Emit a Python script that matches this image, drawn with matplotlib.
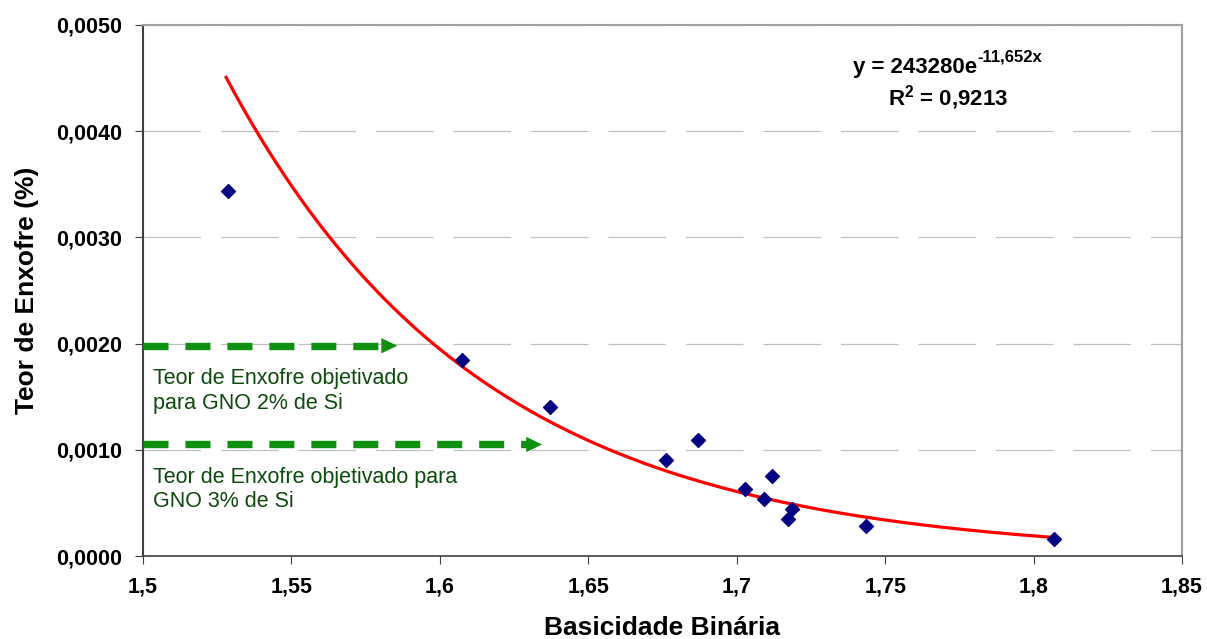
import numpy as np
import matplotlib
matplotlib.use("Agg")
import matplotlib.pyplot as plt
from matplotlib.ticker import FuncFormatter

plt.rcParams['font.family'] = ['Liberation Sans', 'DejaVu Sans']
plt.rcParams['mathtext.fontset'] = 'custom'
plt.rcParams['mathtext.rm'] = 'Liberation Sans'
plt.rcParams['mathtext.bf'] = 'Liberation Sans:bold'

# data
basicidade = [1.5286, 1.6075, 1.6371, 1.6762, 1.6870, 1.7028, 1.7092, 1.7119, 1.7173, 1.7186, 1.7435, 1.8069]
enxofre = [0.00344, 0.00185, 0.00140, 0.00090, 0.00109, 0.00063, 0.00054, 0.00075, 0.00035, 0.00044, 0.00028, 0.00016]

# exponential trendline given on the chart
coef_a = 243280
coef_b = -11.652

# target levels (arrows)
alvo_y = [0.00198, 0.00105]
alvo_x_fim = [1.5866, 1.6354]
alvo_texto = ["Teor de Enxofre objetivado\npara GNO 2% de Si",
              "Teor de Enxofre objetivado para\nGNO 3% de Si"]

fig = plt.figure(figsize=(12.07, 6.39), dpi=100)
ax = fig.add_axes([143 / 1207, 1 - 556 / 639, (1182 - 143) / 1207, (556 - 25) / 639])

ax.set_xlim(1.5, 1.85)
ax.set_ylim(0, 0.005)
ax.set_xticks(np.arange(1.5, 1.851, 0.05))
ax.set_yticks(np.arange(0, 0.00501, 0.001))

fx = lambda v, p: ('%g' % round(v, 2)).replace('.', ',')
fy = lambda v, p: ('%.4f' % v).replace('.', ',')
ax.xaxis.set_major_formatter(FuncFormatter(fx))
ax.yaxis.set_major_formatter(FuncFormatter(fy))

ax.grid(axis='y', color='#c0c0c0', linestyle=(0, (46, 16)), linewidth=0.9)
ax.set_axisbelow(True)
ax.spines['top'].set_color('#a0a0a0')
ax.spines['right'].set_color('#a0a0a0')
ax.spines['top'].set_linewidth(1.5)
ax.spines['right'].set_linewidth(1.5)
ax.spines['left'].set_color('#404040')
ax.spines['left'].set_linewidth(1.5)
ax.spines['bottom'].set_color('#404040')
ax.spines['bottom'].set_linewidth(1.2)
ax.tick_params(direction='out', length=6, color='#404040', labelsize=15.5)
ax.tick_params(axis='x', pad=9)
ax.tick_params(axis='y', pad=9)
for lbl in ax.get_xticklabels() + ax.get_yticklabels():
    lbl.set_fontweight('bold')

# trendline
xs = np.linspace(1.528, max(basicidade), 200)
ax.plot(xs, coef_a * np.exp(coef_b * xs), color='#ff0000', linewidth=2.3, zorder=2)

ax.scatter(basicidade, enxofre, marker='D', s=50, color='#000080', zorder=3)

# target arrows
for yv, xf, txt in zip(alvo_y, alvo_x_fim, alvo_texto):
    ax.plot([1.5, xf - 0.004], [yv, yv], color='#109010', linewidth=5.3,
            linestyle=(0, (3.4, 2.3)), solid_capstyle='butt', dash_capstyle='butt', zorder=4)
    ax.annotate('', xy=(xf, yv), xytext=(xf - 0.006, yv),
                arrowprops=dict(arrowstyle='-|>,head_length=1.15,head_width=0.55', color='#109010', lw=0), zorder=4)
    ax.text(1.5034, yv - 0.00021, txt, color='#0d4a0d', fontsize=15.5, va='top', ha='left',
            linespacing=1.22)

# trendline equation
eq = ax.text(853, 639 - 67, "y = 243280e", transform=None,
             fontsize=16, fontweight='bold', ha='left', va='center')
ax.annotate("-11,652x", xy=(1, 0.6), xycoords=eq, fontsize=12, fontweight='bold',
            ha='left', va='bottom')
ax.text(948, 639 - 98, "R$^{\\mathbf{2}}$ = 0,9213", transform=None,
        fontsize=16, fontweight='bold', ha='center', va='center')

ax.set_xlabel("Basicidade Binária", fontsize=19, fontweight='bold', labelpad=13)
ax.set_ylabel("Teor de Enxofre (%)", fontsize=19, fontweight='bold', labelpad=12)

fig.savefig("out.png", dpi=100)
